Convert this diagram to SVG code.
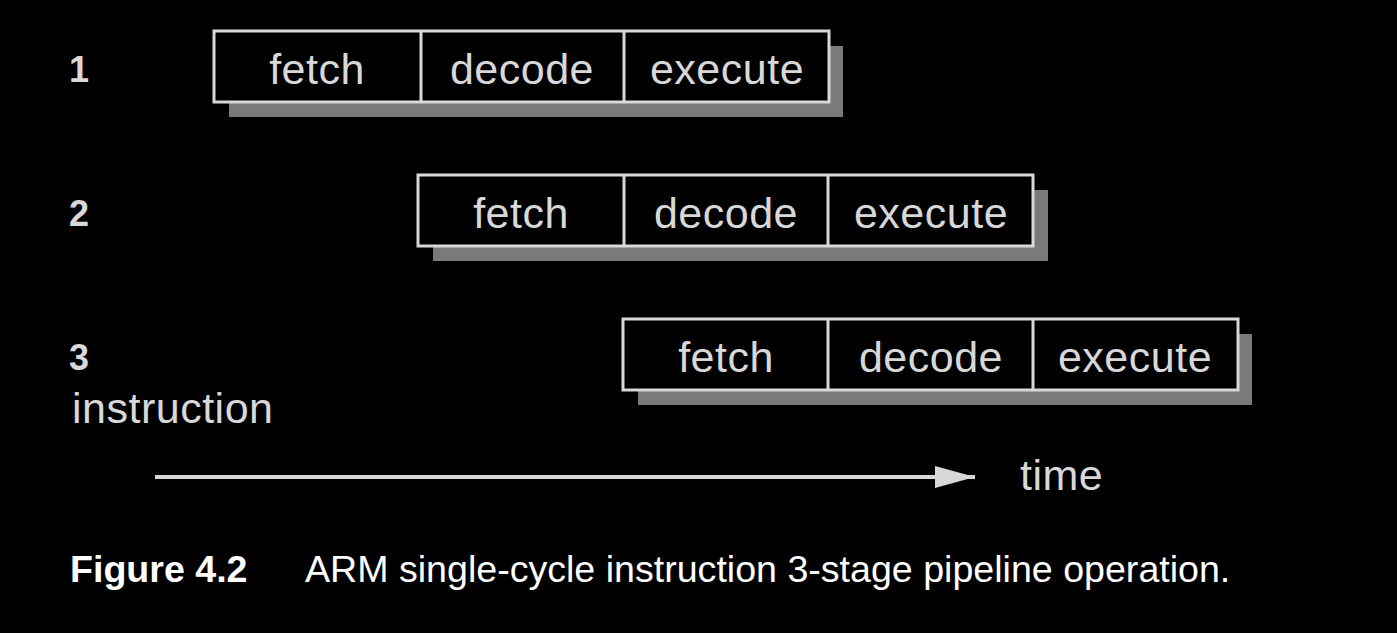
<svg xmlns="http://www.w3.org/2000/svg" width="1397" height="633" viewBox="0 0 1397 633">
<defs>
<style>
.t{font-family:"Liberation Sans",Arial,sans-serif;fill:#d8d8d8;font-size:43px;letter-spacing:0.5px}
.c{text-anchor:middle}
.n{font-weight:bold;font-size:36px;letter-spacing:0}
.box{fill:#000;stroke:#d8d8d8;stroke-width:3}
.sh{fill:#7a7a7a}
.div{stroke:#d8d8d8;stroke-width:3}
.cap{font-family:"Liberation Sans",Arial,sans-serif;fill:#fff;font-size:37.6px}
</style>
<marker id="ah" markerWidth="40" markerHeight="22" refX="40" refY="11" orient="auto" markerUnits="userSpaceOnUse" viewBox="0 0 40 22">
<path d="M0,0 L40,11 L0,22 z" fill="#d8d8d8"/>
</marker>
</defs>
<rect width="1397" height="633" fill="#000"/>
<g id="row1">
<rect class="sh" x="229" y="46" width="614" height="71"/>
<rect class="box" x="214" y="31" width="615" height="71"/>
<line class="div" x1="421" y1="31" x2="421" y2="102"/>
<line class="div" x1="624" y1="31" x2="624" y2="102"/>
<text class="t c" x="317" y="84">fetch</text>
<text class="t c" x="522" y="84">decode</text>
<text class="t c" x="727" y="84">execute</text>
<text class="t n" x="69" y="82">1</text>
</g>
<g id="row2">
<rect class="sh" x="433" y="190" width="615" height="71"/>
<rect class="box" x="418" y="175" width="615" height="71"/>
<line class="div" x1="624" y1="175" x2="624" y2="246"/>
<line class="div" x1="828" y1="175" x2="828" y2="246"/>
<text class="t c" x="521" y="228">fetch</text>
<text class="t c" x="726" y="228">decode</text>
<text class="t c" x="931" y="228">execute</text>
<text class="t n" x="69" y="226">2</text>
</g>
<g id="row3">
<rect class="sh" x="638" y="334" width="614" height="71"/>
<rect class="box" x="623" y="319" width="615" height="71"/>
<line class="div" x1="828" y1="319" x2="828" y2="390"/>
<line class="div" x1="1033" y1="319" x2="1033" y2="390"/>
<text class="t c" x="726" y="372">fetch</text>
<text class="t c" x="931" y="372">decode</text>
<text class="t c" x="1135" y="372">execute</text>
<text class="t n" x="69" y="370">3</text>
<text class="t" x="72" y="423">instruction</text>
</g>
<g id="connectors">
<line x1="155" y1="477" x2="975" y2="477" stroke="#d8d8d8" stroke-width="4" marker-end="url(#ah)"/>
</g>
<text class="t" x="1020" y="490">time</text>
<text class="cap" x="70" y="582" font-weight="bold">Figure 4.2</text>
<text class="cap" x="305" y="582">ARM single-cycle instruction 3-stage pipeline operation.</text>
</svg>
